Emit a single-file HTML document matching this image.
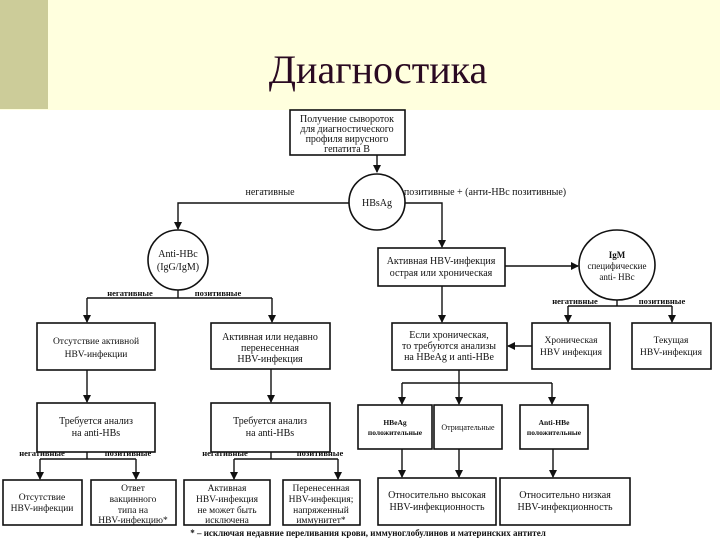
<!DOCTYPE html>
<html><head><meta charset="utf-8"><style>
html,body{margin:0;padding:0;background:#fff}
svg{display:block}
text{font-family:"Liberation Serif",serif;fill:#111}
</style></head><body>
<svg width="720" height="540" viewBox="0 0 720 540" xmlns="http://www.w3.org/2000/svg">
<defs><marker id="a" markerWidth="8" markerHeight="8" refX="7" refY="4" orient="auto" markerUnits="userSpaceOnUse"><path d="M0,0 L8,4 L0,8z" fill="#111"/></marker></defs>
<rect x="0" y="0" width="720" height="110" fill="#ffffde"/>
<rect x="0" y="0" width="48" height="109" fill="#cccc99"/>
<text x="378" y="83" font-size="40" text-anchor="middle" style="fill:#2a0a22">Диагностика</text>
<g fill="none" stroke="#111" stroke-width="1.6">
<rect x="290" y="110" width="115" height="45"/>
<circle cx="377" cy="202" r="28"/>
<circle cx="178" cy="260" r="30"/>
<rect x="378" y="248" width="127" height="38"/>
<ellipse cx="617" cy="265" rx="38" ry="35"/>
<rect x="37" y="323" width="118" height="47"/>
<rect x="211" y="323" width="119" height="46"/>
<rect x="37" y="403" width="118" height="49"/>
<rect x="211" y="403" width="119" height="49"/>
<rect x="3" y="480" width="79" height="45"/>
<rect x="91" y="480" width="85" height="45"/>
<rect x="184" y="480" width="86" height="45"/>
<rect x="283" y="480" width="77" height="45"/>
<rect x="392" y="323" width="115" height="47"/>
<rect x="532" y="323" width="78" height="46"/>
<rect x="632" y="323" width="79" height="46"/>
<rect x="358" y="405" width="74" height="44"/>
<rect x="434" y="405" width="68" height="44"/>
<rect x="520" y="405" width="68" height="44"/>
<rect x="378" y="478" width="118" height="47"/>
<rect x="500" y="478" width="130" height="47"/>
</g>
<g fill="none" stroke="#111" stroke-width="1.4">
<path d="M377,155V172" marker-end="url(#a)"/>
<path d="M349,203H178V229" marker-end="url(#a)"/>
<path d="M405,203H442V247" marker-end="url(#a)"/>
<path d="M505,266H578" marker-end="url(#a)"/>
<path d="M178,290V298"/><path d="M87,298H272"/>
<path d="M87,298V322" marker-end="url(#a)"/><path d="M272,298V322" marker-end="url(#a)"/>
<path d="M87,370V402" marker-end="url(#a)"/><path d="M271,369V402" marker-end="url(#a)"/>
<path d="M87,452V459M40,459H136"/>
<path d="M40,459V479" marker-end="url(#a)"/><path d="M136,459V479" marker-end="url(#a)"/>
<path d="M271,452V459M234,459H338"/>
<path d="M234,459V479" marker-end="url(#a)"/><path d="M338,459V479" marker-end="url(#a)"/>
<path d="M442,286V322" marker-end="url(#a)"/>
<path d="M617,300V306M568,306H672"/>
<path d="M568,306V322" marker-end="url(#a)"/><path d="M672,306V322" marker-end="url(#a)"/>
<path d="M532,346H508" marker-end="url(#a)"/>
<path d="M459,370V383M402,383H552"/>
<path d="M402,383V404" marker-end="url(#a)"/><path d="M459,383V404" marker-end="url(#a)"/><path d="M552,383V404" marker-end="url(#a)"/>
<path d="M402,449V477" marker-end="url(#a)"/><path d="M459,449V477" marker-end="url(#a)"/><path d="M553,449V477" marker-end="url(#a)"/>
</g>
<g font-size="10" text-anchor="middle">
<text x="347" y="122">Получение сывороток</text>
<text x="347" y="132">для диагностического</text>
<text x="347" y="142">профиля вирусного</text>
<text x="347" y="152">гепатита В</text>
<text x="377" y="206">HBsAg</text>
<text x="270" y="195">негативные</text>
<text x="485" y="195">позитивные + (анти-HBc позитивные)</text>
<text x="178" y="257">Anti-HBc</text>
<text x="178" y="270">(IgG/IgM)</text>
<text x="441" y="264">Активная HBV-инфекция</text>
<text x="441" y="276">острая или хроническая</text>
<text x="617" y="258" font-size="9" font-weight="bold">IgM</text>
<text x="617" y="269" font-size="9">специфические</text>
<text x="617" y="280" font-size="9">anti- HBc</text>
<text x="130" y="296" font-size="8.5" font-weight="bold">негативные</text>
<text x="218" y="296" font-size="8.5" font-weight="bold">позитивные</text>
<text x="96" y="344" font-size="9.5">Отсутствие активной</text>
<text x="96" y="357" font-size="9.5">HBV-инфекции</text>
<text x="270" y="340">Активная или недавно</text>
<text x="270" y="351">перенесенная</text>
<text x="270" y="362">HBV-инфекция</text>
<text x="96" y="424">Требуется анализ</text>
<text x="96" y="436">на anti-HBs</text>
<text x="270" y="424">Требуется анализ</text>
<text x="270" y="436">на anti-HBs</text>
<text x="42" y="456" font-size="8.5" font-weight="bold">негативные</text>
<text x="128" y="456" font-size="8.5" font-weight="bold">позитивные</text>
<text x="225" y="456" font-size="8.5" font-weight="bold">негативные</text>
<text x="320" y="456" font-size="8.5" font-weight="bold">позитивные</text>
<text x="42" y="500" font-size="9.5">Отсутствие</text>
<text x="42" y="511" font-size="9.5">HBV-инфекции</text>
<text x="133" y="491" font-size="9.5">Ответ</text>
<text x="133" y="502" font-size="9.5">вакцинного</text>
<text x="133" y="513" font-size="9.5">типа на</text>
<text x="133" y="523" font-size="9.5">HBV-инфекцию*</text>
<text x="227" y="491" font-size="9.5">Активная</text>
<text x="227" y="502" font-size="9.5">HBV-инфекция</text>
<text x="227" y="513" font-size="9.5">не может быть</text>
<text x="227" y="523" font-size="9.5">исключена</text>
<text x="321" y="491" font-size="9.5">Перенесенная</text>
<text x="321" y="502" font-size="9.5">HBV-инфекция;</text>
<text x="321" y="513" font-size="9.5">напряженный</text>
<text x="321" y="523" font-size="9.5">иммунитет*</text>
<text x="449" y="338">Если хроническая,</text>
<text x="449" y="349">то требуются анализы</text>
<text x="449" y="360">на HBeAg и anti-HBe</text>
<text x="575" y="304" font-size="8.5" font-weight="bold">негативные</text>
<text x="662" y="304" font-size="8.5" font-weight="bold">позитивные</text>
<text x="571" y="343" font-size="9.5">Хроническая</text>
<text x="571" y="355" font-size="9.5">HBV инфекция</text>
<text x="671" y="343" font-size="9.5">Текущая</text>
<text x="671" y="355" font-size="9.5">HBV-инфекция</text>
<text x="395" y="425" font-size="7.5" font-weight="bold">HBeAg</text>
<text x="395" y="435" font-size="7.5" font-weight="bold">положительные</text>
<text x="468" y="430" font-size="8">Отрицательные</text>
<text x="554" y="425" font-size="7.5" font-weight="bold">Anti-HBe</text>
<text x="554" y="435" font-size="7.5" font-weight="bold">положительные</text>
<text x="437" y="498">Относительно высокая</text>
<text x="437" y="510">HBV-инфекционность</text>
<text x="565" y="498">Относительно низкая</text>
<text x="565" y="510">HBV-инфекционность</text>
<text x="368" y="536" font-size="9" font-weight="bold">* – исключая недавние переливания крови, иммуноглобулинов и материнских антител</text>
</g>
</svg>
</body></html>
